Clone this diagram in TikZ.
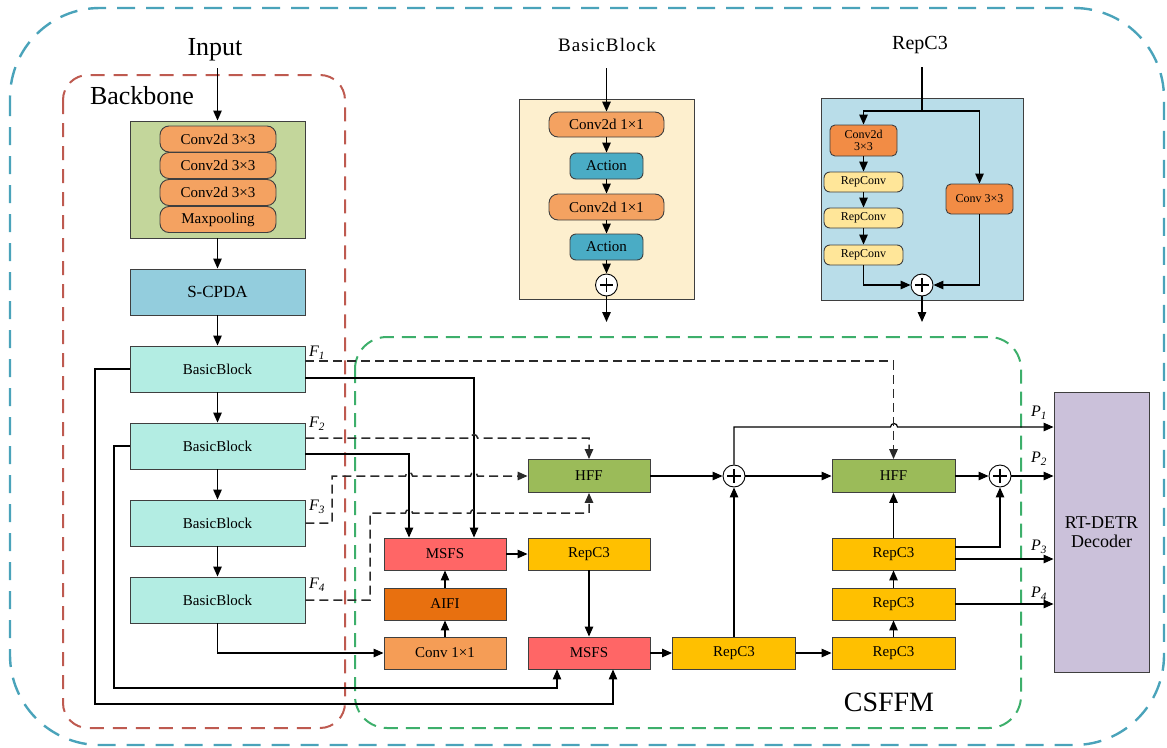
\documentclass[tikz,border=0pt]{standalone}
\usepackage{fontspec}
\setmainfont{Liberation Serif}
\usetikzlibrary{arrows.meta,calc}

\newcommand{\fsz}[1]{\fontsize{#1}{#1}\selectfont}

\definecolor{edge}{HTML}{3F3F3F}
\definecolor{stemgreen}{HTML}{C3D69B}
\definecolor{pillorange}{HTML}{F4A261}
\definecolor{cpda}{HTML}{93CDDD}
\definecolor{bbcyan}{HTML}{B3EDE3}
\definecolor{cream}{HTML}{FDEFCE}
\definecolor{action}{HTML}{4AACC5}
\definecolor{repbg}{HTML}{B9DDE9}
\definecolor{darkorange}{HTML}{F28C45}
\definecolor{repconv}{HTML}{FFE699}
\definecolor{msfs}{HTML}{FF6666}
\definecolor{aifi}{HTML}{E8700F}
\definecolor{convone}{HTML}{F59D56}
\definecolor{repc}{HTML}{FFC000}
\definecolor{hff}{HTML}{9BBB59}
\definecolor{decoder}{HTML}{CBC1DA}
\definecolor{frameblue}{HTML}{4AA3BA}
\definecolor{framered}{HTML}{BE5A50}
\definecolor{framegreen}{HTML}{3DAF6B}
\definecolor{dline}{HTML}{2A2A2A}

\tikzset{
  tip/.tip={Triangle[length=10pt,width=8.5pt]},
  blk/.style={draw=edge, line width=0.9pt, inner sep=0pt, align=center, font=\fsz{15}},
  pill/.style={blk, rounded corners=9pt},
  arr/.style={-tip, line width=1.2pt},
  dsh/.style={line width=1.5pt, draw=dline, dash pattern=on 9pt off 5pt},
  sum/.style={circle, draw=black, line width=0.9pt, fill=white, minimum size=2*#1,
    inner sep=0pt,
    path picture={\draw[line width=1.7pt]
      ([xshift=-0.6*#1]path picture bounding box.center) --
      ([xshift=0.6*#1]path picture bounding box.center)
      ([yshift=-0.6*#1]path picture bounding box.center) --
      ([yshift=0.6*#1]path picture bounding box.center);}},
  flab/.style={font=\fsz{16}\itshape, inner sep=0pt},
  title/.style={inner sep=0pt},
}

\begin{document}
\begin{tikzpicture}[x=1pt,y=-1pt]
\useasboundingbox (0,0) rectangle (1167,747);

% ---------- module frames ----------
\draw[frameblue, line width=2.4pt, dash pattern=on 18pt off 11pt, rounded corners=90pt]
  (10,8) rectangle (1164,745);
\draw[framered, line width=2pt, dash pattern=on 14pt off 9pt, rounded corners=25pt]
  (63,75) rectangle (345,728);
\draw[framegreen, line width=2pt, dash pattern=on 14pt off 8pt, rounded corners=32pt]
  (355,337) rectangle (1021,728);

\node[title, font=\fsz{26}] (inputlbl) at (215,50) {Input};
\node[title, font=\fsz{26}] (backbonelbl) at (142,96) {Backbone};
\node[title, font=\fsz{28}] (csffmlbl) at (889,702) {CSFFM};

% ---------- backbone ----------
\coordinate (inp) at (217.5,68);
\node[blk, fill=stemgreen, minimum width=175pt, minimum height=117pt] (stem) at (217.5,179.5) {};
\node[pill, fill=pillorange, minimum width=116pt, minimum height=26pt] (s1) at (218,139) {Conv2d 3×3};
\node[pill, fill=pillorange, minimum width=116pt, minimum height=26pt] (s2) at (218,165.5) {Conv2d 3×3};
\node[pill, fill=pillorange, minimum width=116pt, minimum height=26pt] (s3) at (218,192.5) {Conv2d 3×3};
\node[pill, fill=pillorange, minimum width=116pt, minimum height=26pt] (s4) at (218,219.5) {Maxpooling};

\node[blk, fill=cpda, minimum width=175pt, minimum height=46pt, font=\fsz{17}] (scpda) at (217.5,292) {S-CPDA};
\node[blk, fill=bbcyan, minimum width=175pt, minimum height=46pt] (bb1) at (217.5,369) {BasicBlock};
\node[blk, fill=bbcyan, minimum width=175pt, minimum height=46pt] (bb2) at (217.5,446) {BasicBlock};
\node[blk, fill=bbcyan, minimum width=175pt, minimum height=46pt] (bb3) at (217.5,523) {BasicBlock};
\node[blk, fill=bbcyan, minimum width=175pt, minimum height=46pt] (bb4) at (217.5,600) {BasicBlock};

\draw[arr] (inp) -- (stem.north);
\draw[arr] (stem.south) -- (scpda.north);
\draw[arr] (scpda.south) -- (bb1.north);
\draw[arr] (bb1.south) -- (bb2.north);
\draw[arr] (bb2.south) -- (bb3.north);
\draw[arr] (bb3.south) -- (bb4.north);

\node[flab] (f1) at (317,353) {F\textsubscript{1}};
\node[flab] (f2) at (317,424) {F\textsubscript{2}};
\node[flab] (f3) at (317,507) {F\textsubscript{3}};
\node[flab] (f4) at (317,585) {F\textsubscript{4}};

% ---------- CSFFM ----------
\node[blk, fill=hff, minimum width=122pt, minimum height=33pt] (hff1) at (589,476) {HFF};
\node[blk, fill=msfs, minimum width=122pt, minimum height=32pt] (msfs1) at (445,554) {MSFS};
\node[blk, fill=repc, minimum width=122pt, minimum height=32pt] (rc1) at (589,554) {RepC3};
\node[blk, fill=aifi, minimum width=122pt, minimum height=32pt] (aifi) at (445,604) {AIFI};
\node[blk, fill=convone, minimum width=122pt, minimum height=32pt] (conv1) at (445,653) {Conv 1×1};
\node[blk, fill=msfs, minimum width=122pt, minimum height=32pt] (msfs2) at (589,653) {MSFS};
\node[blk, fill=repc, minimum width=123pt, minimum height=32pt] (rc2) at (734,653) {RepC3};
\node[blk, fill=repc, minimum width=123pt, minimum height=32pt] (rc3) at (893.5,653) {RepC3};
\node[blk, fill=repc, minimum width=123pt, minimum height=32pt] (rc4) at (893.5,604) {RepC3};
\node[blk, fill=repc, minimum width=123pt, minimum height=32pt] (rc5) at (893.5,554) {RepC3};
\node[blk, fill=hff, minimum width=123pt, minimum height=33pt] (hff2) at (893.5,476) {HFF};
\node[sum=11pt] (plus1) at (734,476) {};
\node[sum=11pt] (plus2) at (1000,476) {};
\node[blk, fill=decoder, minimum width=95pt, minimum height=280pt, font=\fsz{18}, text depth=0pt] (dec) at (1101.5,532) {RT-DETR\\[1pt]Decoder};

% solid connections
\draw[arr] (bb4.south) |- (conv1.west);
\draw[arr] (conv1.north) -- (aifi.south);
\draw[arr] (aifi.north) -- (msfs1.south);
\draw[arr] (msfs1.east) -- (rc1.west);
\draw[arr] (rc1.south) -- (msfs2.north);
\draw[arr] (msfs2.east) -- (rc2.west);
\draw[arr] (rc2.east) -- (rc3.west);
\draw[arr] (rc3.north) -- (rc4.south);
\draw[arr] (rc4.north) -- (rc5.south);
\draw[arr] (rc5.north) -- (hff2.south);
\draw[arr] (rc2.north) -- (plus1.south);
\draw[arr] (hff1.east) -- (plus1.west);
\draw[arr] (plus1.east) -- (hff2.west);
\draw[arr] (hff2.east) -- (plus2.west);
\draw[arr] ([yshift=7pt]rc5.east) -| (plus2.south);

\draw[arr] (bb1.west) -- (95,369) -- (95,704) -| ([xshift=24pt]msfs2.south);
\draw[arr] (bb2.west) -- (114,446) -- (114,688) -| ([xshift=-32pt]msfs2.south);
\draw[arr] ([yshift=-9pt]bb1.east) -| ([xshift=29pt]msfs1.north);
\draw[arr] ([yshift=-8pt]bb2.east) -| ([xshift=-36pt]msfs1.north);

% outputs to decoder
\draw[arr] (plus1.north) -- (734,427) -- (890.5,427)
  arc[start angle=180, end angle=0, radius=3.5pt] -- ([yshift=105pt]dec.west);
\draw[arr] (plus2.east) -- (plus2.east -| dec.west);
\draw[arr] ([yshift=-5pt]rc5.east) -- ([yshift=-5pt]rc5.east -| dec.west);
\draw[arr] (rc4.east) -- (rc4.east -| dec.west);

\node[flab] (p1) at (1039,413) {P\textsubscript{1}};
\node[flab] (p2) at (1039,459) {P\textsubscript{2}};
\node[flab] (p3) at (1039,547) {P\textsubscript{3}};
\node[flab] (p4) at (1039,594) {P\textsubscript{4}};

% dashed feature paths
\draw[dsh, -tip] ([yshift=8pt]bb1.east) -| (hff2.north);
\draw[dsh, -tip] ([yshift=8pt]bb2.east) -- (470.5,438)
  arc[start angle=180, end angle=0, radius=3.5pt] -- (589,438) -- (hff1.north);
\draw[dsh, -tip] (bb3.east) -- (332,523) -- (332,476) -- (405.5,476)
  arc[start angle=180, end angle=0, radius=3.5pt] -- (470.5,476)
  arc[start angle=180, end angle=0, radius=3.5pt] -- (hff1.west);
\draw[dsh, -tip] (bb4.east) -- (370,600) -- (370,513) -- (405.5,513)
  arc[start angle=180, end angle=0, radius=3.5pt] -- (470.5,513)
  arc[start angle=180, end angle=0, radius=3.5pt] -- (589,513) -- (hff1.south);

% ---------- BasicBlock detail ----------
\node[title, font=\fsz{19}] (bbtitle) at (607,45) {\addfontfeature{LetterSpace=6}BasicBlock};
\node[blk, fill=cream, minimum width=175pt, minimum height=200pt] (bbbox) at (606.5,199) {};
\coordinate (bbin) at (606.5,68);
\coordinate (bbout) at (606.5,322);
\node[pill, fill=pillorange, minimum width=115pt, minimum height=25pt] (ba) at (606.5,124.5) {Conv2d 1×1};
\node[blk, rounded corners=6pt, fill=action, minimum width=73pt, minimum height=26pt] (bact1) at (606.5,166) {Action};
\node[pill, fill=pillorange, minimum width=115pt, minimum height=26pt] (bb) at (606.5,207) {Conv2d 1×1};
\node[blk, rounded corners=6pt, fill=action, minimum width=73pt, minimum height=26pt] (bact2) at (606.5,247) {Action};
\node[sum=11pt] (bplus) at (606.5,285) {};
\draw[arr, line width=1.4pt] (bbin) -- (ba.north);
\draw[arr] (ba.south) -- (bact1.north);
\draw[arr] (bact1.south) -- (bb.north);
\draw[arr] (bb.south) -- (bact2.north);
\draw[arr] (bact2.south) -- (bplus.north);
\draw[arr, line width=1.4pt] (bplus.south) -- (bbout);

% ---------- RepC3 detail ----------
\node[title, font=\fsz{20}] (rctitle) at (920,45) {RepC3};
\node[blk, fill=repbg, minimum width=202pt, minimum height=202pt] (rcbox) at (922,199) {};
\coordinate (rcin) at (922,67);
\coordinate (rcsplit) at (922,111);
\coordinate (rcout) at (922,322);
\node[blk, rounded corners=5pt, fill=darkorange, minimum width=67pt, minimum height=31pt, font=\fsz{12}] (rcc) at (863.5,140.5) {Conv2d\\3×3};
\node[blk, rounded corners=6pt, fill=repconv, minimum width=79pt, minimum height=20pt, font=\fsz{12}] (rp1) at (863.5,182) {RepConv};
\node[blk, rounded corners=6pt, fill=repconv, minimum width=79pt, minimum height=20pt, font=\fsz{12}] (rp2) at (863.5,218) {RepConv};
\node[blk, rounded corners=6pt, fill=repconv, minimum width=79pt, minimum height=20pt, font=\fsz{12}] (rp3) at (863.5,255) {RepConv};
\node[blk, rounded corners=5pt, fill=darkorange, minimum width=67pt, minimum height=30pt, font=\fsz{12}] (rc33) at (979.5,199) {Conv 3×3};
\node[sum=11pt] (rplus) at (922,285) {};
\draw[line width=1.4pt] (rcin) -- (rcsplit);
\draw[arr, line width=1.3pt] (rcsplit) -| (rcc.north);
\draw[arr, line width=1.3pt] (rcsplit) -| (rc33.north);
\draw[arr] (rcc.south) -- (rp1.north);
\draw[arr] (rp1.south) -- (rp2.north);
\draw[arr] (rp2.south) -- (rp3.north);
\draw[arr, line width=1.3pt] (rp3.south) |- (rplus.west);
\draw[arr, line width=1.3pt] (rc33.south) |- (rplus.east);
\draw[arr, line width=1.4pt] (rplus.south) -- (rcout);

\end{tikzpicture}
\end{document}
